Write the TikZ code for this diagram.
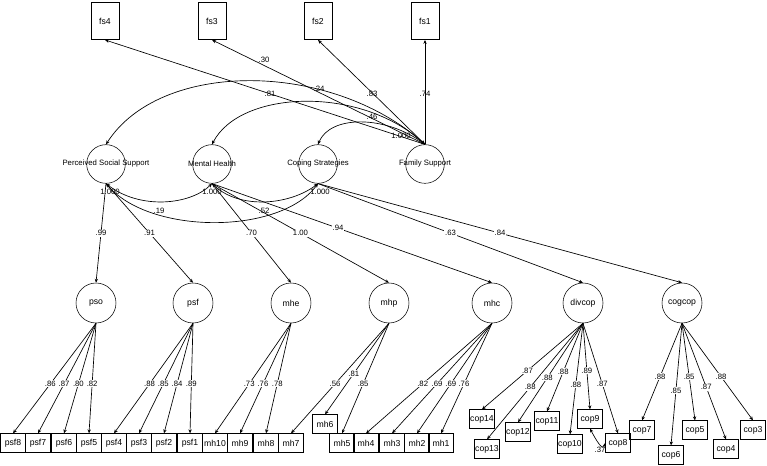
\documentclass[tikz,border=0pt]{standalone}
\usepackage{fontspec}
\setmainfont{Liberation Sans}
\usetikzlibrary{arrows.meta}
\usetikzlibrary{calc}
\tikzset{
  obs/.style={draw,minimum width=19pt,minimum height=14pt,inner sep=0.5pt,font=\fontsize{6.5}{7}\selectfont},
  fsbox/.style={draw,minimum width=21pt,minimum height=28pt,font=\fontsize{6.5}{7}\selectfont},
  lat/.style={draw,circle,minimum size=29pt,inner sep=0pt},
  load/.style={-{Stealth[length=3pt,width=2.5pt]},line width=0.5pt},
  cov/.style={{Stealth[length=3pt,width=2.5pt]}-{Stealth[length=3pt,width=2.5pt]},line width=0.5pt},
  val/.style={inner sep=0.6pt,fill=white}
}
\newcommand{\fsrow}{21}
\newcommand{\latrow}{164}
\newcommand{\subrow}{303}
\begin{document}
\begin{tikzpicture}[x=0.75pt,y=-0.75pt,font=\fontsize{5.8}{6}\selectfont]
  \useasboundingbox (0,0) rectangle (767,466);
  % family support items
  \foreach \n/\x in {fs4/105,fs3/212,fs2/318,fs1/425}
    \node[fsbox] (\n) at (\x,\fsrow) {\n};
  % main factors
  \node[lat] (pss) at (106,\latrow) {};
  \node at (pss) {Perceived Social Support};
  \node[lat] (mh) at (212,\latrow) {};
  \node at (mh) {Mental Health};
  \node[lat] (cs) at (318,\latrow) {};
  \node at (cs) {Coping Strategies};
  \node[lat] (fam) at (425,\latrow) {};
  \node at (fam) {Family Support};
  % sub factors
  \foreach \n/\x in {pso/96,psf/193,mhe/291,mhp/389,mhc/492,divcop/583,cogcop/682}
    \node[lat,minimum size=30pt,font=\fontsize{6.5}{7}\selectfont] (\n) at (\x,\subrow) {\n};
  % observed items
  \foreach \n/\x/\y in {psf8/13/443,psf7/38/443,psf6/64/443,psf5/89/443,
      psf4/114/443,psf3/139/443,psf2/164/443,psf1/190/443,
      mh10/215/443,mh9/240/443,mh8/266/443,mh7/291/443,mh6/325/424,
      mh5/342/443,mh4/366/443,mh3/392/443,mh2/417/443,mh1/441/443,
      cop14/482/419,cop13/487/449,cop12/518/432,cop11/547/421,
      cop10/570/444,cop9/590/419,cop8/618/443,
      cop7/642/430,cop6/671/455,cop5/695/430,cop4/726/449,cop3/753/430}
    \node[obs] (\n) at (\x,\y) {\n};
  % family support loadings
  \draw[load] (fam.north) -- (fs4.south);
  \draw[load] (fam.north) -- (fs3.south);
  \draw[load] (fam.north) -- (fs2.south);
  \draw[load] (fam.north) -- (fs1.south);
  \node at (270,94) {.81};
  \node at (264,60) {.30};
  \node at (372,94) {.83};
  \node at (425,94) {.74};
  % covariances with family support
  \draw[cov] (fam.north) .. controls (330,60) and (160,60) .. (pss.north);
  \draw[cov] (fam.north) .. controls (360,85) and (240,90) .. (mh.north);
  \draw[cov] (fam.north) .. controls (385,115) and (330,115) .. (cs.north);
  \node at (319,89) {.24};
  \node at (372,117) {.46};
  \node at (401,136) {1.000};
  % covariances among factors
  \draw[cov] (pss.south) .. controls (140,210) and (190,205) .. (mh.south);
  \draw[cov] (mh.south) .. controls (240,210) and (290,205) .. (cs.south);
  \draw[cov] (pss.south) .. controls (150,235) and (280,235) .. (cs.south);
  \node at (110,192) {1.000};
  \node at (212,192) {1.000};
  \node at (320,192) {1.000};
  \node at (159,211) {.19};
  \node at (264,211) {.52};
  % second order loadings
  \draw[load] (pss.south) -- node[val,pos=0.5] {.99} (pso.north);
  \draw[load] (pss.south) -- node[val,pos=0.5] {.91} (psf.north);
  \draw[load] (mh.south) -- node[val,pos=0.5] {.70} (mhe.north);
  \draw[load] (mh.south) -- node[val,pos=0.5] {1.00} (mhp.north);
  \draw[load] (mh.south) -- node[val,pos=0.45] {.94} (mhc.north);
  \draw[load] (cs.south) -- node[val,pos=0.5] {.63} (divcop.north);
  \draw[load] (cs.south) -- node[val,pos=0.5] {.84} (cogcop.north);
  % first order loadings
  \foreach \f/\n/\v in {pso/psf8/.86,pso/psf7/.87,pso/psf6/.80,pso/psf5/.82,
      psf/psf4/.88,psf/psf3/.85,psf/psf2/.84,psf/psf1/.89,
      mhe/mh10/.73,mhe/mh9/.76,mhe/mh8/.78,
      mhp/mh7/.56,mhp/mh6/.81,mhp/mh5/.85,
      mhc/mh4/.82,mhc/mh3/.69,mhc/mh2/.69,mhc/mh1/.76,
      divcop/cop14/.87,divcop/cop13/.88,divcop/cop12/.88,divcop/cop11/.88,
      divcop/cop10/.88,divcop/cop9/.89,divcop/cop8/.87,
      cogcop/cop7/.88,cogcop/cop6/.85,cogcop/cop5/.85,cogcop/cop4/.87,cogcop/cop3/.88}
    \draw[load] (\f.south) -- node[val,pos=0.55] {\v} (\n.north);
  % residual covariance
  \draw[cov] (cop9.south) .. controls (596,440) and (603,452) .. (cop8.west);
  \node at (600,450) {.37};
\end{tikzpicture}
\end{document}
